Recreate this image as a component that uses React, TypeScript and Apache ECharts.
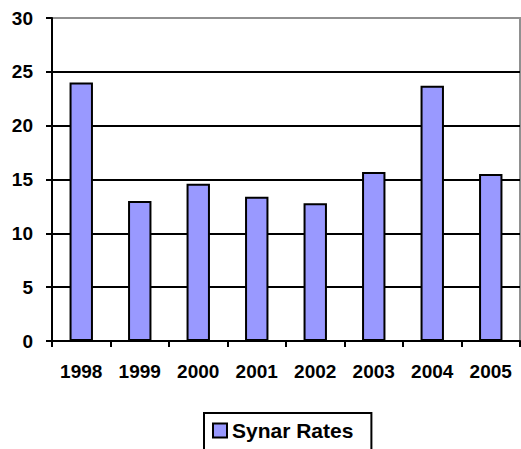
import React, { useEffect, useRef } from "react";
import * as echarts from "echarts";

const categories = ["1998", "1999", "2000", "2001", "2002", "2003", "2004", "2005"];
const synarRates = [24.0, 13.0, 14.6, 13.4, 12.8, 15.7, 23.7, 15.5];
const yTicks = { min: 0, max: 30, interval: 5 };

export default function App() {
  const ref = useRef<HTMLDivElement>(null);
  useEffect(() => {
    const chart = echarts.init(ref.current!, null, { renderer: "svg" });
    chart.setOption({
      animation: false,
      backgroundColor: "#ffffff",
      textStyle: { fontFamily: "Liberation Sans, Arial, sans-serif" },
      grid: {
        left: 52,
        right: 1,
        top: 18,
        bottom: 108,
        show: true,
        borderColor: "#909090",
        borderWidth: 2,
        backgroundColor: "transparent",
      },
      xAxis: {
        type: "category",
        data: categories,
        axisLine: { lineStyle: { color: "#000", width: 2 } },
        axisTick: { show: true, length: 6, lineStyle: { color: "#000", width: 2 } },
        axisLabel: { color: "#000", fontWeight: "bold", fontSize: 19, margin: 21 },
      },
      yAxis: {
        type: "value",
        min: yTicks.min,
        max: yTicks.max,
        interval: yTicks.interval,
        axisLine: { show: true, lineStyle: { color: "#000", width: 2 } },
        axisTick: { show: true, length: 6, lineStyle: { color: "#000", width: 2 } },
        axisLabel: { color: "#000", fontWeight: "bold", fontSize: 19, margin: 19 },
        splitLine: {
          show: true,
          lineStyle: {
            color: ["#000", "#000", "#000", "#000", "#000", "#000", "#909090"],
            width: 2,
          },
        },
      },
      legend: {
        top: 413,
        left: 204,
        itemWidth: 14,
        itemHeight: 14,
        itemGap: 4,
        icon: "rect",
        borderColor: "#000",
        borderWidth: 2,
        borderRadius: 0,
        padding: [7, 18, 20, 8],
        textStyle: { color: "#000", fontWeight: "bold", fontSize: 21 },
        data: [{ name: "Synar Rates", itemStyle: { borderColor: "#000", borderWidth: 2 } }],
      },
      series: [
        {
          name: "Synar Rates",
          type: "bar",
          data: synarRates,
          barWidth: "40%",
          itemStyle: { color: "#9999ff", borderColor: "#000", borderWidth: 2 },
        },
      ],
    });
    return () => chart.dispose();
  }, []);
  return <div ref={ref} style={{ width: 521, height: 449, position: "absolute", left: 0, top: 0 }} />;
}
